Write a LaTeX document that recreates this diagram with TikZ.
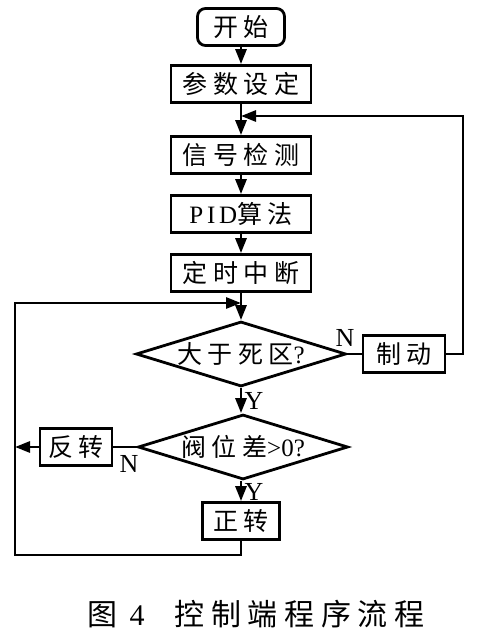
\documentclass[tikz,border=0pt]{standalone}
\usepackage{fontspec}
\setmainfont{Liberation Serif}
\newfontfamily\cjk[LetterSpace=22]{Noto Sans CJK SC}
\newfontfamily\latin[LetterSpace=15]{Liberation Serif}
\usetikzlibrary{arrows.meta,shapes.geometric,positioning}
\tikzset{flowline/.style={line width=1.4pt},flowarrow/.style={flowline,-{Triangle[length=7.5pt,width=5.5pt]}},flowbox/.style={draw,line width=1.4pt,minimum height=18.5pt,inner sep=0pt,font=\fontsize{12.5}{14}\selectfont\cjk},startbox/.style={flowbox,rounded corners=4pt},testbox/.style={draw,diamond,aspect=3.2,line width=1.4pt,minimum width=105pt,minimum height=32.5pt,inner sep=0pt,font=\fontsize{12.5}{14}\selectfont\cjk},yn/.style={font=\fontsize{13}{14}\selectfont,inner sep=0pt},figcap/.style={font=\fontsize{15}{17}\selectfont\cjk,inner sep=0pt}}

\begin{document}
\begin{tikzpicture}[x=.5pt,y=-.5pt]
\useasboundingbox (0,0) rectangle (476,636);
\node[startbox,minimum width=43.5pt] (start) at (241,27) {开始};
\node[flowbox,minimum width=70pt] (param) at (241,84) {参数设定};
\node[flowbox,minimum width=70pt] (detect) at (241,155) {信号检测};
\node[flowbox,minimum width=70pt] (pid) at (241,214) {{\latin PID}算法};
\node[flowbox,minimum width=70pt] (timer) at (241,273) {定时中断};
\node[testbox] (dead) at (241,354) {大于死区{\rmfamily ?}};
\node[flowbox,minimum width=41pt] (brake) at (404,354) {制动};
\node[testbox] (valve) at (243,447) {阀位差{\rmfamily >0?}};
\node[flowbox,minimum width=36pt] (rev) at (76,447) {反转};
\node[flowbox,minimum width=38.5pt] (fwd) at (241,521) {正转};
\coordinate (j1) at (241,116);\coordinate (j2) at (241,303);
\coordinate (rcorner) at (463,116);\coordinate (lcorner) at (15,555);
\draw[flowarrow] (start) -- (param);
\draw[flowarrow] (param) -- (detect);
\draw[flowarrow] (detect) -- (pid);
\draw[flowarrow] (pid) -- (timer);
\draw[flowarrow] (timer) -- (dead);
\draw[flowline] (dead.east) -- (brake.west);
\draw[flowarrow] (brake.east) -| (rcorner) -- (j1);
\draw[flowarrow] (dead.south) -- (dead.south |- valve.north);
\draw[flowline] (valve.west) -- (rev.east);
\draw[flowarrow] (rev.west) -- (rev.west -| lcorner);
\draw[flowarrow] (valve.south -| fwd.north) -- (fwd.north);
\draw[flowarrow] (fwd.south) |- (lcorner) |- (j2);
\node[yn] (dn) at (345,338) {N};\node[yn] (dy) at (254,401) {Y};
\node[yn] (vn) at (129,464) {N};\node[yn] (vy) at (254,492) {Y};
\node[figcap] (cap) at (256,614) {图{\latin\ 4}\quad 控制端程序流程};
\end{tikzpicture}
\end{document}
